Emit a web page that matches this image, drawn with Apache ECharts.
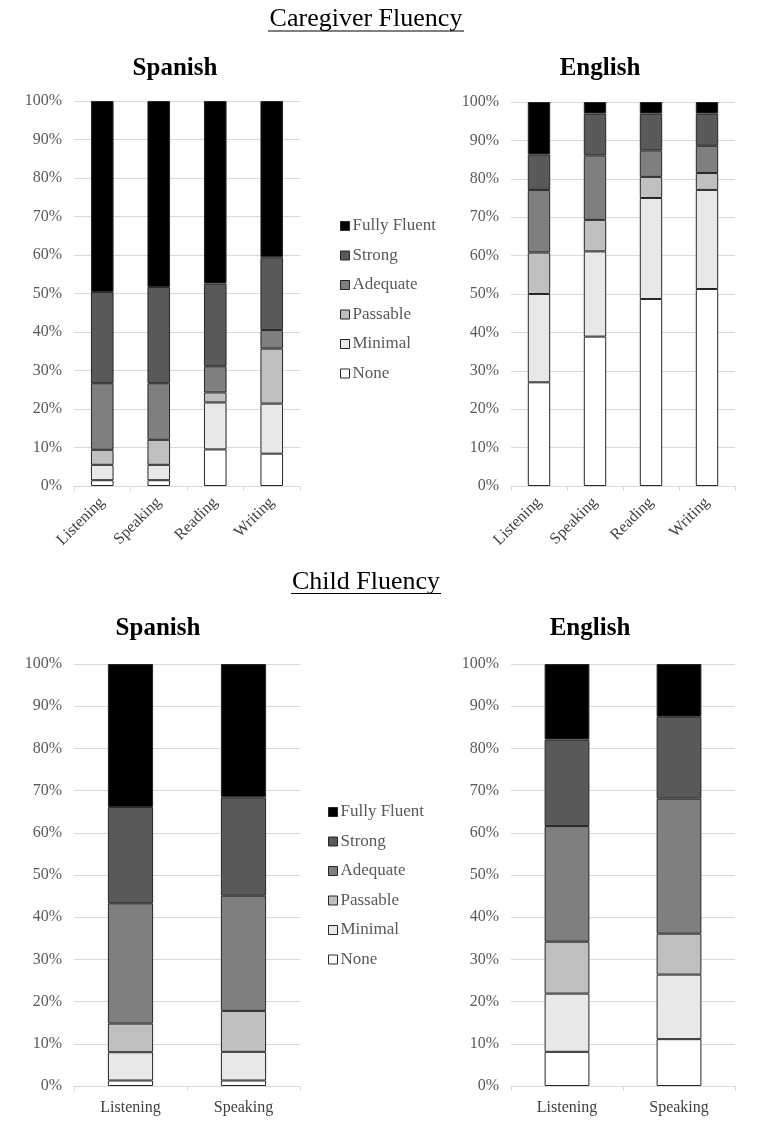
<!DOCTYPE html>
<html><head><meta charset="utf-8">
<script src="https://cdn.jsdelivr.net/npm/echarts@6/dist/echarts.min.js"></script>
<style>html,body{margin:0;padding:0;background:#fff}#c{width:764px;height:1125px}</style>
</head><body><div id="c"></div>
<script>
// Stack order: bottom to top
const levels = ['None', 'Minimal', 'Passable', 'Adequate', 'Strong', 'Fully Fluent'];
const legendOrder = ['Fully Fluent', 'Strong', 'Adequate', 'Passable', 'Minimal', 'None'];
const levelColors = ['#ffffff', '#e8e8e8', '#bfbfbf', '#7f7f7f', '#595959', '#000000'];

const caregiverSkills = ['Listening', 'Speaking', 'Reading', 'Writing'];
const childSkills = ['Listening', 'Speaking'];

// values in % per level (None, Minimal, Passable, Adequate, Strong, Fully Fluent), per skill
const caregiverSpanish = [
  [1.5, 1.5, 9.5, 8.4],
  [4.0, 4.0, 12.2, 13.0],
  [3.9, 6.5, 2.6, 14.3],
  [17.3, 14.7, 6.8, 4.8],
  [23.7, 25.0, 21.5, 18.9],
  [49.6, 48.3, 47.4, 40.6]
];
const caregiverEnglish = [
  [27.0, 38.9, 48.7, 51.3],
  [23.0, 22.2, 26.3, 25.8],
  [10.8, 8.2, 5.5, 4.4],
  [16.3, 16.8, 6.9, 7.1],
  [9.2, 10.9, 9.6, 8.4],
  [13.7, 3.0, 3.0, 3.0]
];
const childSpanish = [
  [1.3, 1.3],
  [6.7, 6.8],
  [6.8, 9.7],
  [28.5, 27.3],
  [22.8, 23.3],
  [33.9, 31.6]
];
const childEnglish = [
  [8.1, 11.1],
  [13.8, 15.3],
  [12.3, 9.7],
  [27.4, 32.0],
  [20.5, 19.4],
  [17.9, 12.5]
];

const FONT = '"Liberation Serif", "Times New Roman", serif';
const panels = [
  {data: caregiverSpanish, cats: caregiverSkills, grid: {left: 74, top: 101, width: 226, height: 385}, rotate: 45},
  {data: caregiverEnglish, cats: caregiverSkills, grid: {left: 511, top: 102, width: 224, height: 384}, rotate: 45},
  {data: childSpanish, cats: childSkills, grid: {left: 74, top: 664, width: 226, height: 422}, rotate: 0},
  {data: childEnglish, cats: childSkills, grid: {left: 511, top: 664, width: 224, height: 422}, rotate: 0}
];

const grids = [], xAxes = [], yAxes = [], series = [];
panels.forEach((p, i) => {
  grids.push(Object.assign({containLabel: false}, p.grid));
  xAxes.push({
    type: 'category', gridIndex: i, data: p.cats,
    axisLine: {lineStyle: {color: '#d9d9d9'}},
    axisTick: {show: true, lineStyle: {color: '#d9d9d9'}, length: 5},
    axisLabel: {rotate: p.rotate, color: '#404040', fontFamily: FONT, fontSize: 16, margin: p.rotate ? 14 : 14, interval: 0}
  });
  yAxes.push({
    type: 'value', gridIndex: i, min: 0, max: 100, interval: 10,
    axisLine: {show: false}, axisTick: {show: false},
    splitLine: {lineStyle: {color: '#d9d9d9'}},
    axisLabel: {formatter: '{value}%', color: '#595959', fontFamily: FONT, fontSize: 16, margin: 12}
  });
  levels.forEach((lv, k) => {
    series.push({
      name: lv, type: 'bar', stack: 's' + i, xAxisIndex: i, yAxisIndex: i,
      data: p.data[k], barWidth: '40%',
      itemStyle: {color: levelColors[k], borderColor: '#262626', borderWidth: 1},
      emphasis: {disabled: true}
    });
  });
});

const legendCommon = {
  data: legendOrder, orient: 'vertical', icon: 'rect', itemWidth: 9, itemHeight: 9,
  itemGap: 12.5, padding: 0, itemStyle: {borderColor: '#262626', borderWidth: 1},
  textStyle: {color: '#595959', fontFamily: FONT, fontSize: 17, lineHeight: 17, padding: [0, 0, 0, -2]},
  selectedMode: false
};

const titleFont = 'normal 26px ' + FONT;
const subFont = 'bold 25px ' + FONT;
function txt(text, x, y, font) {
  return {type: 'text', x: x, y: y, silent: true,
    style: {text: text, font: font, fill: '#000', align: 'center', verticalAlign: 'middle'}};
}

const chart = echarts.init(document.getElementById('c'), null, {renderer: 'canvas'});
chart.setOption({
  animation: false,
  backgroundColor: '#fff',
  legend: [
    Object.assign({left: 340, top: 217.5}, legendCommon),
    Object.assign({left: 328, top: 803.5}, legendCommon)
  ],
  graphic: [
    txt('Caregiver Fluency', 366, 19, titleFont),
    txt('Child Fluency', 366, 582, titleFont),
    txt('Spanish', 175, 69, subFont),
    txt('English', 600, 69, subFont),
    txt('Spanish', 158, 629, subFont),
    txt('English', 590, 629, subFont),
    {type: 'line', silent: true, shape: {x1: 268, y1: 31, x2: 464, y2: 31}, style: {stroke: '#000', lineWidth: 1}},
    {type: 'line', silent: true, shape: {x1: 291, y1: 593.5, x2: 441, y2: 593.5}, style: {stroke: '#000', lineWidth: 1}}
  ],
  grid: grids, xAxis: xAxes, yAxis: yAxes, series: series
});
</script></body></html>
